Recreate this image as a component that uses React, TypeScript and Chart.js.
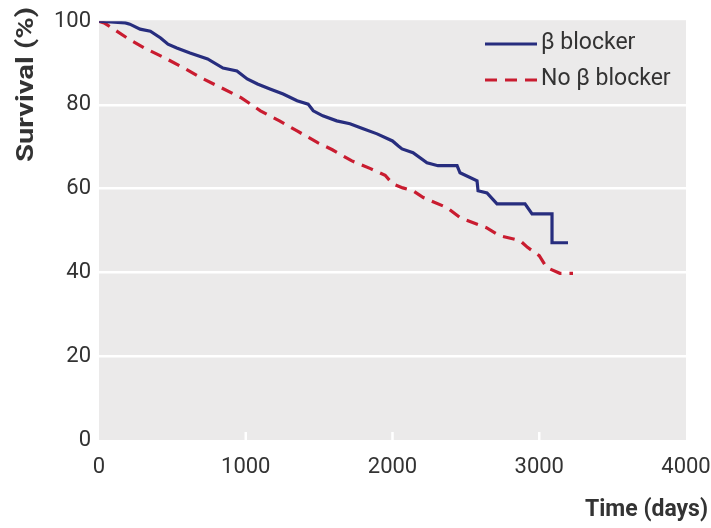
import React, { useEffect, useRef } from "react";
import { Chart, registerables } from "chart.js";

Chart.register(...registerables);

const blockerDays = [0, 180, 210, 280, 350, 420, 470, 530, 620, 740, 845, 940, 1010, 1080, 1165, 1255, 1350, 1425, 1460, 1525, 1620, 1710, 1800, 1895, 2000, 2040, 2065, 2140, 2235, 2310, 2440, 2460, 2576, 2583, 2644, 2712, 2903, 2951, 3087, 3087, 3196];
const blockerSurvival = [100, 99.6, 99.3, 98.1, 97.6, 96, 94.5, 93.6, 92.4, 91, 88.8, 88.1, 86.2, 85, 83.8, 82.6, 81, 80.2, 78.6, 77.4, 76.2, 75.5, 74.3, 73.1, 71.4, 70.2, 69.5, 68.6, 66.2, 65.5, 65.5, 63.8, 61.9, 59.5, 59, 56.4, 56.4, 54, 54, 47.1, 47.1];

const noBlockerDays = [0, 40, 200, 310, 450, 590, 700, 840, 970, 1100, 1230, 1350, 1490, 1590, 1720, 1850, 1950, 2000, 2070, 2140, 2210, 2370, 2460, 2640, 2730, 2870, 2920, 3000, 3050, 3140, 3230];
const noBlockerSurvival = [100, 99.5, 95.8, 93.6, 91.2, 88.6, 86.4, 84, 81.7, 78.6, 76.2, 73.8, 71, 69.3, 66.7, 64.8, 63.2, 61.2, 60.2, 59.5, 57.9, 55.5, 53.1, 50.7, 48.8, 47.6, 46, 44, 41.2, 39.8, 39.8];

const seriesLabels = ["β blocker", "No β blocker"];
const xTitle = "Time (days)";
const yTitle = "Survival (%)";
const xTickValues = [0, 1000, 2000, 3000, 4000];
const yTickValues = [0, 20, 40, 60, 80, 100];

const BLUE = "#272d7e";
const RED = "#c91c30";
const TEXT = "#333333";
const PANEL = "#ebeaea";
const DASH = [12, 8];

const decor = {
  id: "decor",
  beforeDraw(chart: any) {
    const { ctx, chartArea: a } = chart;
    ctx.save();
    ctx.fillStyle = "#ffffff";
    ctx.fillRect(0, 0, chart.width, chart.height);
    ctx.fillStyle = PANEL;
    ctx.fillRect(a.left, a.top - 1, a.right - a.left, a.bottom - a.top + 1);
    ctx.restore();
  },
  beforeDatasetsDraw(chart: any) {
    const { ctx, chartArea: a, scales } = chart;
    ctx.save();
    ctx.strokeStyle = "#ffffff";
    ctx.lineWidth = 2.5;
    xTickValues.forEach((v) => {
      if (v === 0 || v === 4000) return;
      const x = scales.x.getPixelForValue(v);
      ctx.beginPath();
      ctx.moveTo(x, a.bottom);
      ctx.lineTo(x, a.bottom - 8);
      ctx.stroke();
    });
    ctx.restore();
  },
  afterDraw(chart: any) {
    const { ctx } = chart;
    ctx.save();
    const colors = [BLUE, RED];
    const dashes = [[], DASH];
    const ys = [43, 79];
    ctx.font = "23px Roboto";
    ctx.textBaseline = "middle";
    ctx.textAlign = "left";
    for (let i = 0; i < 2; i++) {
      ctx.strokeStyle = colors[i];
      ctx.lineWidth = 3.2;
      ctx.setLineDash(dashes[i]);
      ctx.beginPath();
      ctx.moveTo(485, ys[i] + 1);
      ctx.lineTo(537, ys[i] + 1);
      ctx.stroke();
      ctx.setLineDash([]);
      ctx.fillStyle = TEXT;
      ctx.fillText(seriesLabels[i], 541, ys[i]);
    }
    ctx.font = "bold 23px Roboto";
    ctx.fillStyle = TEXT;
    ctx.textAlign = "right";
    ctx.textBaseline = "middle";
    ctx.fillText(xTitle, 708, 510);

    ctx.translate(27, 162);
    ctx.rotate(-Math.PI / 2);
    ctx.textAlign = "left";
    const w = ctx.measureText(yTitle).width;
    ctx.scale(155 / w, 1);
    ctx.fillText(yTitle, 0, 0);
    ctx.restore();
  },
};

export default function App() {
  const ref = useRef<HTMLCanvasElement | null>(null);
  useEffect(() => {
    if (!ref.current) return;
    const chart = new Chart(ref.current, {
      type: "line",
      data: {
        datasets: [
          {
            label: seriesLabels[0],
            data: blockerDays.map((d, i) => ({ x: d, y: blockerSurvival[i] })),
            borderColor: BLUE,
            borderWidth: 3.2,
            pointRadius: 0,
            tension: 0,
            fill: false,
          },
          {
            label: seriesLabels[1],
            data: noBlockerDays.map((d, i) => ({ x: d, y: noBlockerSurvival[i] })),
            borderColor: RED,
            borderWidth: 3.2,
            borderDash: DASH,
            pointRadius: 0,
            tension: 0,
            fill: false,
          },
        ],
      },
      options: {
        responsive: false,
        animation: false,
        layout: { padding: { left: 0, top: 20, right: 25, bottom: 0 } },
        plugins: { legend: { display: false }, tooltip: { enabled: false } },
        scales: {
          x: {
            type: "linear",
            min: 0,
            max: 4000,
            afterBuildTicks: (s: any) => {
              s.ticks = xTickValues.map((v) => ({ value: v }));
            },
            ticks: {
              font: { family: "Roboto", size: 22 },
              color: TEXT,
              padding: 6,
              maxRotation: 0,
              autoSkip: false,
              callback: (v: any) => String(v),
            },
            grid: { display: false },
            border: { display: false },
            afterFit: (s: any) => {
              s.height = 88;
              s.paddingRight = 20;
              s.paddingLeft = 0;
            },
          },
          y: {
            min: 0,
            max: 100,
            afterBuildTicks: (s: any) => {
              s.ticks = yTickValues.map((v) => ({ value: v }));
            },
            ticks: {
              font: { family: "Roboto", size: 22 },
              color: TEXT,
              padding: 8,
              callback: (v: any) => String(v),
            },
            grid: {
              color: (c: any) => (c.tick && (c.tick.value === 0 || c.tick.value === 100) ? "rgba(0,0,0,0)" : "#ffffff"),
              lineWidth: 2.5,
              drawTicks: false,
            },
            border: { display: false },
            afterFit: (s: any) => {
              s.width = 99;
            },
          },
        },
      },
      plugins: [decor],
    });
    return () => chart.destroy();
  }, []);
  return (
    <div style={{ position: "fixed", left: 0, top: 0, width: 711, height: 528, background: "#fff" }}>
      <canvas ref={ref} width={711} height={528} style={{ display: "block" }} />
    </div>
  );
}
